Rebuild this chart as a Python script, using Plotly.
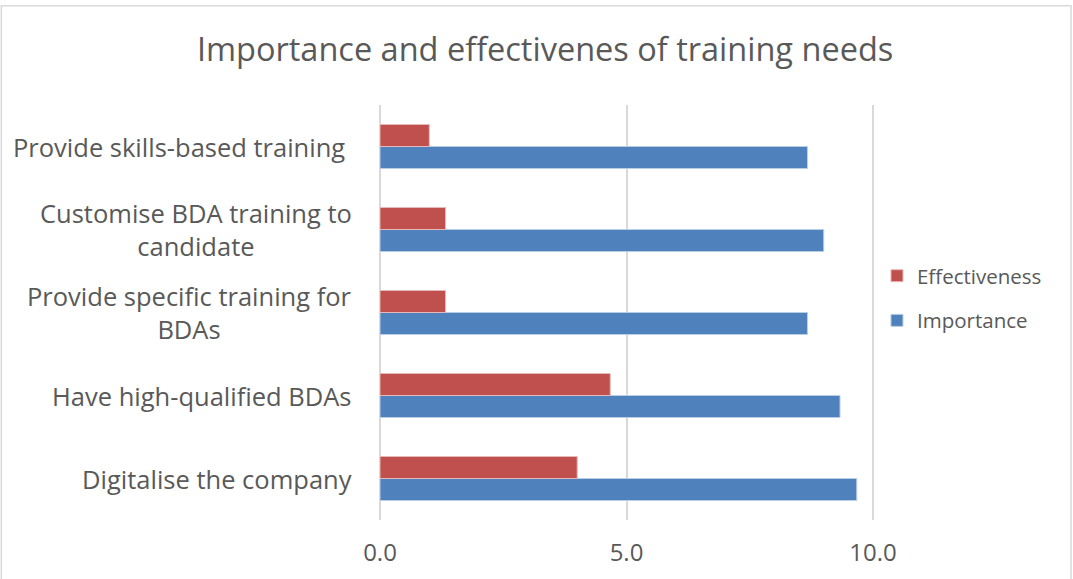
import plotly.graph_objects as go

categories = ["Digitalise the company", "Have high-qualified BDAs",
              "Provide specific training for BDAs", "Customise BDA training to candidate",
              "Provide skills-based training"]
label_text = ["Digitalise the company", "Have high-qualified BDAs",
              "Provide specific training for<br>BDAs", "Customise BDA training to<br>candidate",
              "Provide skills-based training "]
importance = [9.67, 9.33, 8.67, 9.0, 8.67]
effectiveness = [4.0, 4.67, 1.33, 1.33, 1.0]
tick_vals = [0, 5, 10]
tick_text = ["0.0", "5.0", "10.0"]

FONT = "Open Sans"
GREY = "#595959"

fig = go.Figure()
fig.add_trace(go.Bar(y=categories, x=importance, orientation="h", name="Importance",
                     marker=dict(color="#4F81BD", line=dict(color="#B9CDE5", width=1)),
                     legendgroup="imp", legendrank=2))
fig.add_trace(go.Bar(y=categories, x=effectiveness, orientation="h", name="Effectiveness",
                     marker=dict(color="#C0504D", line=dict(color="#E6B9B8", width=1)),
                     legendgroup="eff", legendrank=1))

for cat, txt in zip(categories, label_text):
    fig.add_annotation(x=0, xref="paper", y=cat, yref="y", text=txt, showarrow=False,
                       xanchor="right", xshift=-26, align="center",
                       font=dict(family=FONT, size=25.5, color=GREY))

fig.add_shape(type="rect", xref="paper", yref="paper", x0=-0.765, x1=1.396, y0=-0.2, y1=1.239,
              line=dict(color="#D9D9D9", width=1.5), layer="below")

fig.update_layout(
    width=1073, height=579,
    margin=dict(l=380, r=198, t=104.5, b=58.5),
    paper_bgcolor="white", plot_bgcolor="white",
    barmode="group", bargap=0.47, bargroupgap=0,
    title=dict(text="Importance and effectivenes of training needs", x=0.508, xanchor="center",
               y=0.915, yanchor="middle", font=dict(family=FONT, size=32.5, color=GREY)),
    legend=dict(x=1.004, y=0.534, xanchor="left", yanchor="middle", traceorder="grouped",
                font=dict(family=FONT, size=20.5, color=GREY), itemwidth=30,
                tracegroupgap=15),
    showlegend=True,
)
fig.update_xaxes(range=[0, 10.04], tickvals=tick_vals, ticktext=tick_text, showgrid=True,
                 gridcolor="#D9D9D9", gridwidth=2, zeroline=True, zerolinecolor="#D9D9D9",
                 zerolinewidth=2, showline=False,
                 ticklabelstandoff=16, tickfont=dict(family=FONT, size=24, color=GREY), fixedrange=True)
fig.update_yaxes(showticklabels=False, showgrid=False, zeroline=False, showline=False, fixedrange=True)

fig.write_html("out.html", config={"displayModeBar": False},
               post_script="document.body.style.margin='0';document.body.style.padding='0';")
